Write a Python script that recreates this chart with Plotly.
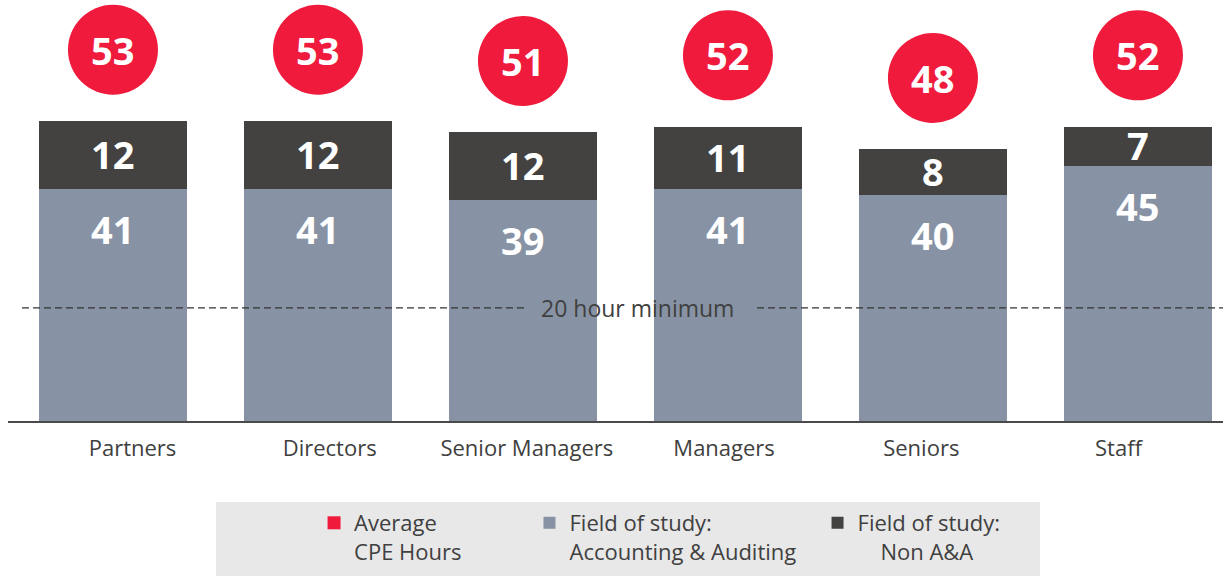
import plotly.graph_objects as go

# ---------------- data ----------------
categories = ["Partners", "Directors", "Senior Managers", "Managers", "Seniors", "Staff"]
aa_hours = [41, 41, 39, 41, 40, 45]          # Field of study: Accounting & Auditing
non_aa_hours = [12, 12, 12, 11, 8, 7]        # Field of study: Non A&A
avg_cpe_hours = [53, 53, 51, 52, 48, 52]     # Average CPE Hours
minimum_hours = 20
minimum_label = "20 hour minimum"
legend_avg = "Average<br>CPE Hours"
legend_aa = "Field of study:<br>Accounting & Auditing"
legend_non = "Field of study:<br>\u00a0\u00a0\u00a0\u00a0Non A&A"

# ---------------- style ----------------
RED = "#EF1A3C"
AA = "#8793A4"
NON = "#434240"
TXT = "#404040"
FONT = "Open Sans"
PX_PER_UNIT = 5.66
PLOT_H = 421
CIRCLE_OFFSET = 12.6   # data units above the stack
NUM_FONT = dict(size=38, color="white", family=FONT, weight="bold")

fig = go.Figure()

fig.add_bar(x=categories, y=aa_hours, marker=dict(color=AA, line=dict(width=0)),
            width=0.722, name=legend_aa, legend="legend2", hoverinfo="skip")
fig.add_bar(x=categories, y=non_aa_hours, marker=dict(color=NON, line=dict(width=0)),
            width=0.722, name=legend_non, legend="legend3", hoverinfo="skip")

# red circles with the average
circle_y = [v + CIRCLE_OFFSET for v in avg_cpe_hours]
fig.add_scatter(x=categories, y=circle_y,
                mode="markers", marker=dict(size=90, color=RED, line=dict(width=0)),
                showlegend=False, cliponaxis=False, hoverinfo="skip")
# legend entry for the average (square symbol)
fig.add_scatter(x=[None], y=[None], mode="markers",
                marker=dict(symbol="square", size=13, color=RED),
                name=legend_avg, legend="legend", hoverinfo="skip")

# invisible trace that carries the category tick labels on xaxis2
fig.add_scatter(x=categories, y=[0] * len(categories), xaxis="x2", mode="markers",
                marker=dict(opacity=0), showlegend=False, hoverinfo="skip")

annotations = []
for c, a, n, avg, cy in zip(categories, aa_hours, non_aa_hours, avg_cpe_hours, circle_y):
    annotations.append(dict(x=c, y=a, yshift=-40, text=str(a), showarrow=False,
                            font=NUM_FONT, xanchor="center", yanchor="middle"))
    annotations.append(dict(x=c, y=a + n / 2, yshift=1, text=str(n), showarrow=False,
                            font=NUM_FONT, xanchor="center", yanchor="middle"))
    annotations.append(dict(x=c, y=cy, text=str(avg), showarrow=False,
                            font=NUM_FONT, xanchor="center", yanchor="middle"))
annotations.append(dict(x=0.5185, xref="paper", y=minimum_hours, yref="y", text=minimum_label,
                        showarrow=False, font=dict(size=23, color=TXT, family=FONT),
                        xanchor="center", yanchor="middle"))

shapes = [
    dict(type="line", xref="paper", yref="y", x0=0.0115, x1=0.4272, y0=minimum_hours, y1=minimum_hours,
         line=dict(color="#333333", width=1.2, dash="7px,4px"), layer="above"),
    dict(type="line", xref="paper", yref="y", x0=0.6165, x1=1.0, y0=minimum_hours, y1=minimum_hours,
         line=dict(color="#333333", width=1.2, dash="7px,4px"), layer="above"),
    dict(type="rect", xref="paper", yref="paper", x0=0.1712, x1=0.8494, y0=-0.40, y1=-0.1924,
         fillcolor="#E8E8E8", line=dict(width=0), layer="below"),
]

leg_common = dict(bgcolor="rgba(0,0,0,0)", font=dict(size=22, color=TXT, family=FONT),
                  valign="top", yanchor="top", xanchor="left", y=-0.1924, orientation="v")

fig.update_layout(
    width=1223, height=576,
    margin=dict(l=8, r=0, t=0, b=155),
    plot_bgcolor="white", paper_bgcolor="white",
    barmode="stack",
    font=dict(family=FONT, color=TXT),
    xaxis=dict(type="category", range=[-0.512, 5.415], showticklabels=False, showline=True,
               linecolor="#4a4a4a", linewidth=2, showgrid=False, zeroline=False, ticks=""),
    xaxis2=dict(type="category", overlaying="x", anchor="y", side="bottom",
                range=[-0.6313, 5.530], showline=False, showgrid=False, zeroline=False,
                ticks="outside", ticklen=8, tickcolor="rgba(0,0,0,0)",
                tickfont=dict(size=22, color=TXT, family=FONT),
                categoryorder="array", categoryarray=categories),
    yaxis=dict(range=[0, PLOT_H / PX_PER_UNIT], visible=False),
    legend=dict(x=0.2519, **leg_common),
    legend2=dict(x=0.4292, **leg_common),
    legend3=dict(x=0.6663, **leg_common),
    annotations=annotations,
    shapes=shapes,
)

fig.write_html("out.html", config={"displayModeBar": False},
               post_script="document.body.style.margin='0';document.body.style.overflow='hidden';")
